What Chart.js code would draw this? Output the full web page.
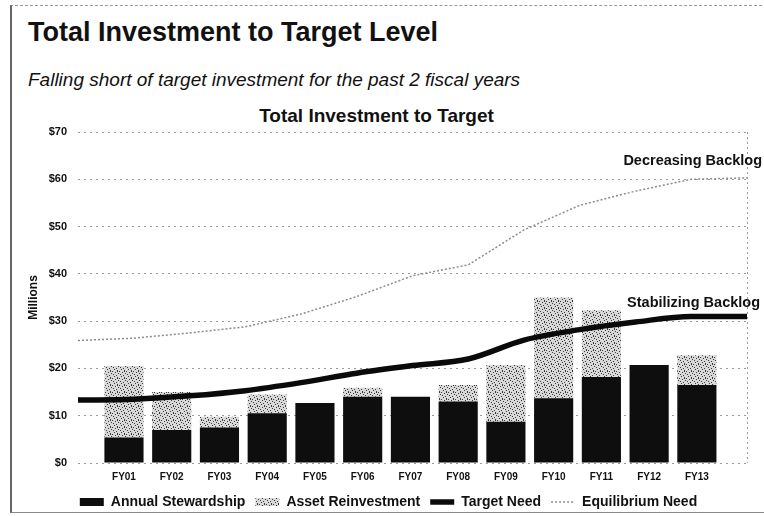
<!DOCTYPE html>
<html>
<head>
<meta charset="utf-8">
<title>Total Investment to Target Level</title>
<script src="https://cdn.jsdelivr.net/npm/chart.js@4.4.1/dist/chart.umd.min.js"></script>
<style>
  html, body { margin: 0; padding: 0; background: #fff; overflow: hidden; }
  #page { position: relative; width: 764px; height: 516px; font-family: "Liberation Sans", Arial, sans-serif; color: #111; }
  #frame { position: absolute; left: 10px; top: 5px; width: 760px; height: 506px; border-left: 2px solid #666; border-top: 1px dashed #999; border-bottom: 1px solid #888; }
  .txt { position: absolute; margin: 0; white-space: nowrap; }
  #head { left: 28px; top: 19px; font-size: 27px; line-height: 27px; font-weight: bold; }
  #sub { left: 28px; top: 70px; font-size: 19px; line-height: 19px; font-style: italic; }
  #ctitle { left: 0; width: 753px; top: 106px; font-size: 19px; line-height: 19px; font-weight: bold; text-align: center; }
  #chart { position: absolute; left: 0; top: 0; }
</style>
</head>
<body>
<div id="page">
  <div id="frame"></div>
  <h1 class="txt" id="head">Total Investment to Target Level</h1>
  <div class="txt" id="sub">Falling short of target investment for the past 2 fiscal years</div>
  <div class="txt" id="ctitle">Total Investment to Target</div>
  <canvas id="chart" width="764" height="519"></canvas>
</div>
<script>
// values, in millions of dollars
var years = ["FY01", "FY02", "FY03", "FY04", "FY05", "FY06", "FY07", "FY08", "FY09", "FY10", "FY11", "FY12", "FY13"];
var stewardship = [5.4, 7.0, 7.5, 10.5, 12.7, 14.0, 14.0, 13.0, 8.7, 13.7, 18.2, 20.7, 16.5];
var reinvestment = [15.1, 8.0, 2.3, 4.0, 0, 1.9, 0, 3.5, 12.0, 21.3, 14.1, 0, 6.3];
var targetNeed = [13.3, 13.5, 14.2, 15.3, 17.0, 19.0, 20.6, 22.0, 26.0, 28.2, 29.8, 31.0, 31.0];
var equilibriumNeed = [25.9, 26.4, 27.5, 28.8, 31.5, 35.2, 39.6, 41.9, 49.3, 54.5, 57.5, 60.0, 60.3];
var yTicks = [0, 10, 20, 30, 40, 50, 60, 70];

var font = '"Liberation Sans", Arial, sans-serif';
var canvas = document.getElementById("chart");

// speckled grey fill like the scanned original
function stipple() {
  var c = document.createElement("canvas");
  c.width = 7; c.height = 7;
  var g = c.getContext("2d");
  g.fillStyle = "#d8d8d8";
  g.fillRect(0, 0, 7, 7);
  g.fillStyle = "#3c3c3c";
  [[0, 0], [3, 1], [6, 2], [1, 3], [4, 4], [2, 5], [5, 6], [5, 0]].forEach(function (p) {
    g.fillRect(p[0], p[1], 1, 1);
  });
  return canvas.getContext("2d").createPattern(c, "repeat");
}

var extras = {
  id: "extras",
  beforeDatasetsDraw(chart) {
    var ctx = chart.ctx, area = chart.chartArea;
    ctx.save();
    ctx.strokeStyle = "#999";
    ctx.setLineDash([2, 3]);
    ctx.beginPath();
    ctx.moveTo(area.right + 0.5, area.top);
    ctx.lineTo(area.right + 0.5, area.bottom);
    ctx.stroke();
    ctx.restore();
  },
  afterDatasetsDraw(chart) {
    var ctx = chart.ctx, area = chart.chartArea, y = chart.scales.y;
    ctx.save();
    ctx.font = "bold 14.5px " + font;
    ctx.fillStyle = "#111";
    ctx.textAlign = "right";
    ctx.textBaseline = "middle";
    ctx.fillText("Decreasing Backlog", area.right + 15, y.getPixelForValue(equilibriumNeed[equilibriumNeed.length - 1]) - 17);
    ctx.fillText("Stabilizing Backlog", area.right + 13, y.getPixelForValue(targetNeed[targetNeed.length - 1]) - 13);
    ctx.restore();
  }
};

Chart.defaults.font.family = font;
Chart.defaults.color = "#111";

new Chart(canvas, {
  type: "bar",
  data: {
    datasets: [
      {
        type: "bar", label: "Annual Stewardship",
        data: stewardship.map(function (v, i) { return { x: i, y: v }; }),
        backgroundColor: "#0e0e0e", stack: "inv", order: 1, grouped: false,
        barPercentage: 0.82, categoryPercentage: 1
      },
      {
        type: "bar", label: "Asset Reinvestment",
        data: reinvestment.map(function (v, i) { return { x: i, y: v }; }),
        backgroundColor: stipple(), stack: "inv", order: 1, grouped: false,
        barPercentage: 0.82, categoryPercentage: 1
      },
      {
        type: "line", label: "Target Need", data: targetNeed, xAxisID: "x2",
        borderColor: "#0a0a0a", backgroundColor: "#0a0a0a", borderWidth: 5.5,
        pointRadius: 0, cubicInterpolationMode: "monotone", order: 0
      },
      {
        type: "line", label: "Equilibrium Need", data: equilibriumNeed, xAxisID: "x2",
        borderColor: "#8c8c8c", backgroundColor: "#8c8c8c", borderWidth: 1.5, borderDash: [2, 2],
        pointRadius: 0, order: 0
      }
    ]
  },
  options: {
    responsive: false,
    animation: false,
    layout: { padding: { top: 132, left: 30, right: 17, bottom: 0 } },
    scales: {
      x: {
        type: "linear", min: -0.963, max: 13.05, offset: false, stacked: true,
        grid: { display: false, drawTicks: false, offset: false },
        border: { display: false },
        afterBuildTicks: function (axis) { axis.ticks = years.map(function (_, i) { return { value: i }; }); },
        afterFit: function (axis) { axis.height = 22; },
        ticks: {
          padding: 8, autoSkip: false, maxRotation: 0,
          font: { weight: "bold", size: 10 },
          callback: function (v) { return years[v]; }
        }
      },
      x2: { type: "category", labels: years, offset: false, display: false },
      y: {
        min: yTicks[0], max: yTicks[yTicks.length - 1],
        afterBuildTicks: function (axis) { axis.ticks = yTicks.map(function (v) { return { value: v }; }); },
        afterFit: function (axis) { axis.width = 48; },
        grid: { color: "#9a9a9a", drawTicks: false },
        border: { display: false, dash: [2, 4] },
        ticks: {
          padding: 11,
          font: { weight: "bold", size: 11 },
          callback: function (v) { return "$" + v; }
        },
        title: { display: true, text: "Millions", font: { weight: "bold", size: 12 }, padding: { top: -4, bottom: 0 } }
      }
    },
    plugins: {
      tooltip: { enabled: false },
      legend: {
        position: "bottom",
        labels: {
          usePointStyle: true, pointStyleWidth: 24, boxHeight: 8, padding: 10,
          font: { weight: "bold", size: 14 },
          generateLabels: function (chart) {
            return chart.data.datasets.map(function (d, i) {
              return {
                text: d.label, datasetIndex: i,
                fillStyle: d.backgroundColor,
                strokeStyle: d.borderColor || d.backgroundColor,
                lineWidth: d.type === "line" ? d.borderWidth : 0,
                lineDash: d.borderDash || [],
                pointStyle: d.type === "line" ? "line" : "rect",
                hidden: false, fontColor: "#111"
              };
            });
          }
        }
      }
    }
  },
  plugins: [extras]
});
</script>
</body>
</html>
